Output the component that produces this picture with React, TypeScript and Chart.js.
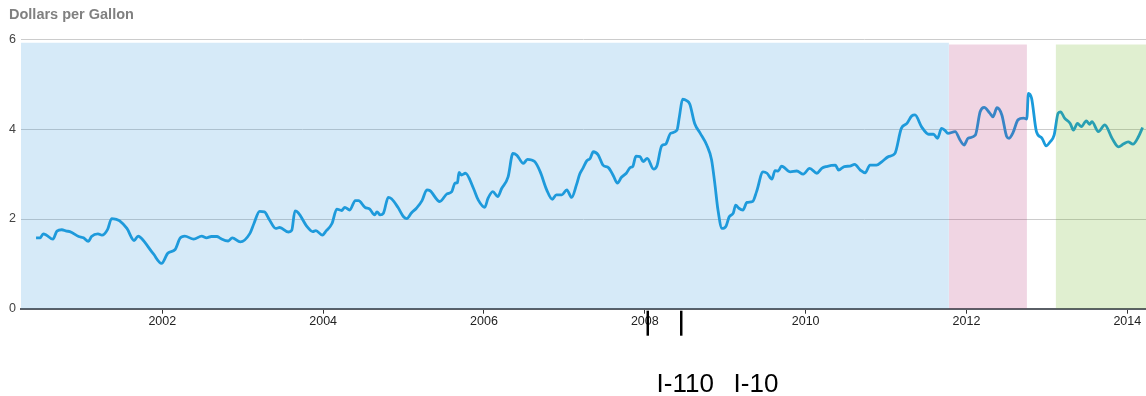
import { useEffect, useRef } from "react";
import { Chart, registerables } from "chart.js";

Chart.register(...registerables);

// ---- data ----
const priceYears = [
  2000.43, 2000.48, 2000.52, 2000.56, 2000.64, 2000.69, 2000.75, 2000.81, 2000.85, 2000.96,
  2001.02, 2001.08, 2001.12, 2001.2, 2001.25, 2001.32, 2001.37, 2001.43, 2001.47, 2001.56,
  2001.65, 2001.7, 2001.74, 2001.89, 2001.99, 2002.07, 2002.16, 2002.22, 2002.28, 2002.39,
  2002.49, 2002.55, 2002.61, 2002.68, 2002.72, 2002.82, 2002.87, 2002.97, 2003.09, 2003.14,
  2003.21, 2003.27, 2003.33, 2003.41, 2003.46, 2003.57, 2003.61, 2003.65, 2003.69, 2003.8,
  2003.87, 2003.91, 2003.99, 2004.04, 2004.11, 2004.17, 2004.23, 2004.27, 2004.33, 2004.4,
  2004.44, 2004.52, 2004.58, 2004.64, 2004.67, 2004.71, 2004.75, 2004.81, 2004.85, 2004.93,
  2005.0, 2005.04, 2005.1, 2005.16, 2005.23, 2005.29, 2005.33, 2005.45, 2005.54, 2005.6,
  2005.64, 2005.67, 2005.69, 2005.72, 2005.77, 2005.87, 2005.93, 2006.01, 2006.05, 2006.11,
  2006.17, 2006.22, 2006.3, 2006.36, 2006.41, 2006.49, 2006.54, 2006.63, 2006.7, 2006.78,
  2006.85, 2006.9, 2006.97, 2007.03, 2007.09, 2007.15, 2007.19, 2007.23, 2007.28, 2007.32,
  2007.36, 2007.42, 2007.48, 2007.55, 2007.61, 2007.66, 2007.71, 2007.77, 2007.82, 2007.85,
  2007.89, 2007.94, 2007.98, 2008.03, 2008.11, 2008.15, 2008.21, 2008.26, 2008.32, 2008.4,
  2008.43, 2008.47, 2008.52, 2008.56, 2008.62, 2008.69, 2008.77, 2008.83, 2008.87, 2008.91,
  2008.96, 2009.01, 2009.05, 2009.1, 2009.13, 2009.17, 2009.22, 2009.27, 2009.34, 2009.39,
  2009.47, 2009.52, 2009.58, 2009.62, 2009.66, 2009.7, 2009.81, 2009.89, 2009.97, 2010.05,
  2010.14, 2010.2, 2010.26, 2010.37, 2010.41, 2010.48, 2010.55, 2010.61, 2010.68, 2010.74,
  2010.8, 2010.88, 2010.95, 2011.03, 2011.11, 2011.19, 2011.26, 2011.32, 2011.36, 2011.44,
  2011.53, 2011.59, 2011.64, 2011.69, 2011.73, 2011.77, 2011.86, 2011.92, 2011.97, 2012.02,
  2012.11, 2012.17, 2012.22, 2012.29, 2012.33, 2012.38, 2012.44, 2012.5, 2012.53, 2012.58,
  2012.64, 2012.71, 2012.75, 2012.77, 2012.81, 2012.87, 2012.94, 2012.99, 2013.04, 2013.09,
  2013.14, 2013.17, 2013.22, 2013.29, 2013.33, 2013.38, 2013.43, 2013.49, 2013.53, 2013.56,
  2013.64, 2013.72, 2013.81, 2013.89, 2013.95, 2014.01, 2014.07, 2014.14, 2014.19,
];

const priceValues = [
  1.58, 1.58, 1.67, 1.64, 1.55, 1.73, 1.76, 1.73, 1.72, 1.61,
  1.58, 1.5, 1.61, 1.67, 1.64, 1.77, 2.01, 1.99, 1.96, 1.79,
  1.52, 1.62, 1.57, 1.22, 1.01, 1.24, 1.32, 1.57, 1.62, 1.55,
  1.62, 1.58, 1.61, 1.61, 1.57, 1.51, 1.58, 1.49, 1.68, 1.9,
  2.17, 2.16, 1.99, 1.79, 1.81, 1.71, 1.75, 2.18, 2.14, 1.83,
  1.72, 1.74, 1.64, 1.74, 1.9, 2.22, 2.19, 2.26, 2.2, 2.41,
  2.41, 2.26, 2.22, 2.09, 2.16, 2.09, 2.13, 2.48, 2.45, 2.26,
  2.05, 2.01, 2.14, 2.24, 2.41, 2.65, 2.63, 2.39, 2.56, 2.61,
  2.8, 2.81, 3.04, 2.98, 3.02, 2.68, 2.42, 2.26, 2.46, 2.61,
  2.5, 2.68, 2.94, 3.46, 3.42, 3.24, 3.33, 3.28, 3.05, 2.65,
  2.44, 2.54, 2.54, 2.65, 2.48, 2.76, 3.0, 3.13, 3.3, 3.35,
  3.5, 3.43, 3.2, 3.14, 2.96, 2.8, 2.93, 3.02, 3.15, 3.17,
  3.4, 3.39, 3.28, 3.35, 3.11, 3.18, 3.63, 3.67, 3.91, 3.98,
  4.28, 4.67, 4.64, 4.56, 4.13, 3.91, 3.65, 3.32, 2.8, 2.2,
  1.79, 1.84, 2.05, 2.13, 2.31, 2.24, 2.2, 2.37, 2.39, 2.61,
  3.05, 3.02, 2.89, 3.08, 3.07, 3.18, 3.05, 3.07, 3.0, 3.13,
  3.02, 3.13, 3.17, 3.2, 3.09, 3.17, 3.18, 3.22, 3.09, 3.03,
  3.2, 3.2, 3.28, 3.39, 3.46, 4.02, 4.13, 4.3, 4.32, 4.06,
  3.89, 3.89, 3.8, 4.02, 3.98, 3.91, 3.95, 3.76, 3.65, 3.8,
  3.87, 4.39, 4.49, 4.36, 4.28, 4.48, 4.32, 3.84, 3.8, 3.93,
  4.21, 4.25, 4.23, 4.8, 4.69, 3.95, 3.8, 3.63, 3.72, 3.87,
  4.36, 4.39, 4.25, 4.13, 3.98, 4.13, 4.06, 4.19, 4.11, 4.17,
  3.95, 4.1, 3.8, 3.61, 3.67, 3.72, 3.67, 3.84, 4.04,
];

const xTickYears = [2002, 2004, 2006, 2008, 2010, 2012, 2014];
const yTickValues = [0, 2, 4, 6];
const xRange = [2000.243, 2014.2325];

const periodStarts = [2000.243, 2011.782, 2013.109];
const periodEnds = [2011.782, 2012.752, 2014.2325];
const periodTops = [5.93, 5.89, 5.89];
const periodColors = [
  "rgba(50,150,220,0.2)",
  "rgba(180,45,115,0.2)",
  "rgba(100,175,20,0.2)",
];

const eventYears = [2008.037, 2008.453];
const eventLabels = ["I-110", "I-10"];

const FONT = "'Liberation Sans', Arial, sans-serif";

export default function App() {
  const canvasRef = useRef<HTMLCanvasElement | null>(null);

  useEffect(() => {
    const canvas = canvasRef.current;
    if (!canvas) return;

    const eventMarkers = {
      id: "eventMarkers",
      afterDraw(chart: any) {
        const { ctx, chartArea, scales } = chart;
        const x = scales.x;
        ctx.save();
        ctx.strokeStyle = "#000";
        ctx.lineWidth = 2.5;
        eventYears.forEach((yr) => {
          const px = x.getPixelForValue(yr);
          ctx.beginPath();
          ctx.moveTo(px, chartArea.bottom + 2);
          ctx.lineTo(px, chartArea.bottom + 27);
          ctx.stroke();
        });
        ctx.restore();
      },
    };

    const periodDatasets = periodStarts.map((s, i) => ({
      label: "period" + i,
      data: [
        { x: s, y: periodTops[i] },
        { x: periodEnds[i], y: periodTops[i] },
      ],
      borderWidth: 0,
      borderColor: "rgba(0,0,0,0)",
      backgroundColor: periodColors[i],
      pointRadius: 0,
      fill: "origin",
      tension: 0,
      order: 0,
    }));

    const chart = new Chart(canvas, {
      type: "line",
      data: {
        datasets: [
          {
            label: "Dollars per Gallon",
            data: priceYears.map((x, i) => ({ x, y: priceValues[i] })),
            borderColor: "#1a9bdb",
            borderWidth: 2.8,
            pointRadius: 0,
            fill: false,
            cubicInterpolationMode: "monotone",
            order: 1,
          },
          ...periodDatasets,
        ] as any,
      },
      options: {
        animation: false,
        responsive: false,
        devicePixelRatio: 1,
        layout: { padding: { left: 0, right: 0, top: 39.6, bottom: 57.3 } },
        plugins: {
          legend: { display: false },
          tooltip: { enabled: false },
          title: { display: false },
        },
        scales: {
          x: {
            type: "linear",
            min: xRange[0],
            max: xRange[1],
            afterBuildTicks: (scale: any) => {
              scale.ticks = xTickYears.map((v) => ({ value: v }));
            },
            afterFit: (scale: any) => {
              scale.height = 30;
            },
            grid: {
              drawOnChartArea: false,
              drawTicks: true,
              tickLength: 5,
              tickColor: "#333",
              tickWidth: 1,
            },
            border: { display: true, color: "#5a5f66", width: 2 },
            ticks: {
              padding: 0,
              color: "#222",
              autoSkip: false,
              maxRotation: 0,
              font: { family: FONT, size: 12.5 },
              callback: (v: any) => String(v),
            },
          },
          y: {
            min: 0,
            max: 6,
            afterBuildTicks: (scale: any) => {
              scale.ticks = yTickValues.map((v) => ({ value: v }));
            },
            afterFit: (scale: any) => {
              scale.width = 21;
            },
            grid: {
              color: (ctx: any) =>
                ctx.tick && ctx.tick.value === 0 ? "rgba(0,0,0,0)" : "#cccccc",
              drawTicks: false,
              lineWidth: 1,
            },
            border: { display: false },
            ticks: {
              padding: 5,
              color: "#444",
              font: { family: FONT, size: 12.5 },
              callback: (v: any) => String(v),
            },
          },
        },
      } as any,
      plugins: [eventMarkers],
    });

    return () => chart.destroy();
  }, []);

  return (
    <div
      style={{
        position: "fixed",
        left: 0,
        top: 0,
        width: 1146,
        height: 396,
        background: "#fff",
        overflow: "hidden",
      }}
    >
      <canvas
        ref={canvasRef}
        width={1146}
        height={396}
        style={{ display: "block", width: 1146, height: 396 }}
      />
      <div
        style={{
          position: "absolute",
          left: 9,
          top: 6.5,
          fontFamily: FONT,
          fontWeight: "bold",
          fontSize: 14.5,
          lineHeight: "14.5px",
          color: "#808080",
          whiteSpace: "nowrap",
        }}
      >
        Dollars per Gallon
      </div>
      <div
        style={{
          position: "absolute",
          left: 656.6,
          top: 369.7,
          fontFamily: FONT,
          fontSize: 26,
          lineHeight: "26px",
          color: "#000",
          whiteSpace: "nowrap",
        }}
      >
        {eventLabels[0]}
      </div>
      <div
        style={{
          position: "absolute",
          left: 733.6,
          top: 369.7,
          fontFamily: FONT,
          fontSize: 26,
          lineHeight: "26px",
          color: "#000",
          whiteSpace: "nowrap",
        }}
      >
        {eventLabels[1]}
      </div>
    </div>
  );
}
